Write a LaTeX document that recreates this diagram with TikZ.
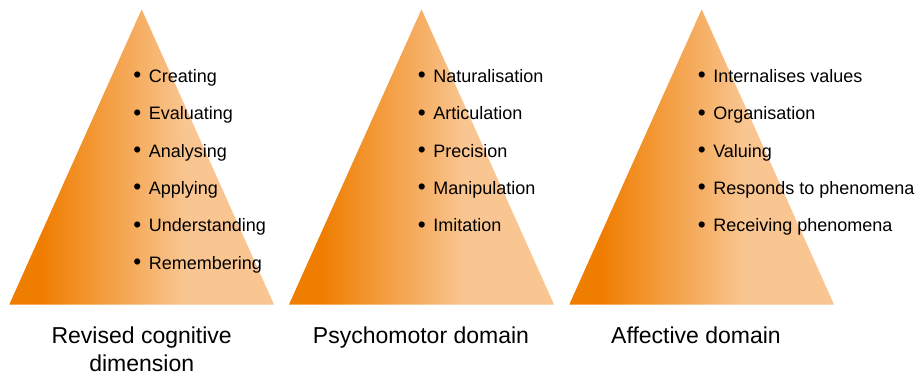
\documentclass[tikz,border=0pt]{standalone}
\usepackage{fontspec}
\setmainfont{Liberation Sans}
\usetikzlibrary{positioning}

\definecolor{orDark}{RGB}{239,125,0}
\definecolor{orLight}{RGB}{249,197,144}
\pgfdeclarehorizontalshading{orangeramp}{100bp}{color(0bp)=(orDark); color(31bp)=(orDark); color(58bp)=(orLight); color(100bp)=(orLight)}
\newcommand{\bul}{{\fontsize{17}{16}\selectfont\raisebox{-0.4pt}{\textbullet}}\hspace{0.42em}}

\begin{document}
\begin{tikzpicture}[
    x=0.75pt, y=-0.75pt,
    pyramid/.style={shading=orangeramp, draw=none},
    item/.style={anchor=base west, inner sep=0pt, font=\fontsize{13.5}{16}\selectfont},
    caption/.style={anchor=base, inner sep=0pt, align=center, font=\fontsize{17.25}{21}\selectfont}
]
\useasboundingbox (0,0) rectangle (924,375);

% Pyramid 1 (cognitive)
\shade[pyramid] (9.3,304.5) -- (141.7,9.3) -- (274,304.5) -- cycle;
\node[item] (creating) at (133,82) {\bul Creating};
\node[item] (evaluating) at (133,119.5) {\bul Evaluating};
\node[item] (analysing) at (133,157) {\bul Analysing};
\node[item] (applying) at (133,194) {\bul Applying};
\node[item] (understanding) at (133,231.5) {\bul Understanding};
\node[item] (remembering) at (133,269) {\bul Remembering};
\node[caption] (cognitive) at (141.7,371) {Revised cognitive\\dimension};

% Pyramid 2 (psychomotor)
\shade[pyramid] (289,304.5) -- (421.5,9.3) -- (554,304.5) -- cycle;
\node[item] (naturalisation) at (417.5,82) {\bul Naturalisation};
\node[item] (articulation) at (417.5,119.5) {\bul Articulation};
\node[item] (precision) at (417.5,157) {\bul Precision};
\node[item] (manipulation) at (417.5,194) {\bul Manipulation};
\node[item] (imitation) at (417.5,231.5) {\bul Imitation};
\node[caption] (psychomotor) at (421,343) {Psychomotor domain};

% Pyramid 3 (affective)
\shade[pyramid] (569.3,304.5) -- (701.7,9.3) -- (834,304.5) -- cycle;
\node[item] (internalises) at (697.5,82) {\bul Internalises values};
\node[item] (organisation) at (697.5,119.5) {\bul Organisation};
\node[item] (valuing) at (697.5,157) {\bul Valuing};
\node[item] (responds) at (697.5,194) {\bul Responds to phenomena};
\node[item] (receiving) at (697.5,231.5) {\bul Receiving phenomena};
\node[caption] (affective) at (696,343) {Affective domain};

\end{tikzpicture}
\end{document}
